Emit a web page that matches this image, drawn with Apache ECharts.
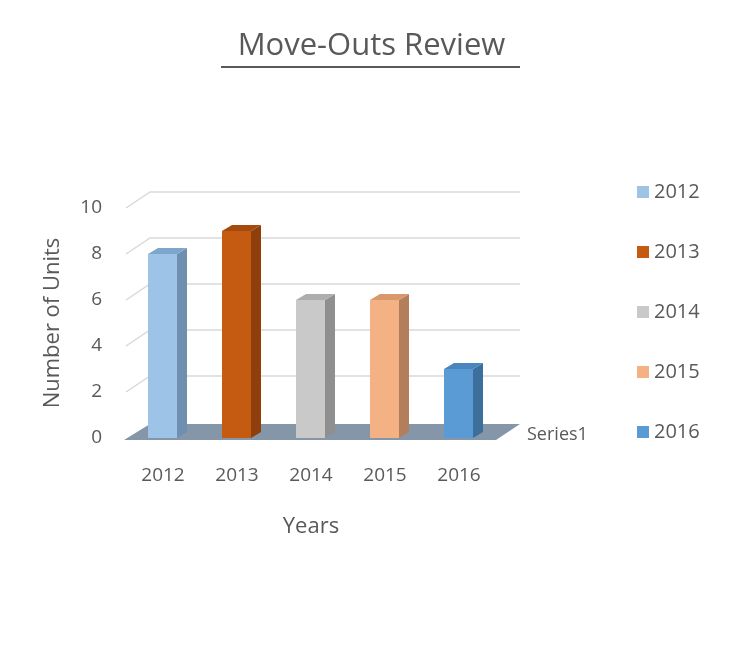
<!DOCTYPE html>
<html><head><meta charset="utf-8">
<script src="https://cdn.jsdelivr.net/npm/echarts@6/dist/echarts.min.js"></script>
<style>html,body{margin:0;padding:0;background:#fff}#c{width:743px;height:652px}</style>
</head><body><div id="c"></div>
<script>
const categories = ['2012','2013','2014','2015','2016'];
const values = [8, 9, 6, 6, 3];
const yTicks = [0, 2, 4, 6, 8, 10];
const frontColors = ['#9dc3e6','#c55a11','#c9c9c9','#f4b183','#5b9bd5'];
const sideColors = ['#6f8fb0','#8e3f0b','#8f8f8f','#b27e5c','#3d6f9c'];
const topColors = ['#7ea6cc','#a54a0d','#adadad','#d9986c','#4a86bd'];
const DX = 24, DY = -16;

const chart = echarts.init(document.getElementById('c'));
const font = '"Open Sans", Calibri, Carlito, sans-serif';
const legendSeries = categories.map((c, i) => ({
  name: c, type: 'bar', data: [], itemStyle: {color: frontColors[i]}
}));

chart.setOption({
  animation: false,
  title: {text: 'Move-Outs Review', left: 'center', top: 26,
    textStyle: {fontFamily: font, fontSize: 31, fontWeight: 'normal', color: '#595959'}},
  legend: {orient: 'vertical', left: 632, top: 177, itemWidth: 12, itemHeight: 12, itemGap: 40,
    icon: 'rect', data: categories,
    textStyle: {fontFamily: font, fontSize: 20, color: '#595959'}},
  grid: {left: 126, width: 370, top: 208, height: 230},
  xAxis: {type: 'category', data: categories, name: 'Years', nameLocation: 'middle', nameGap: 78,
    nameTextStyle: {fontFamily: font, fontSize: 22, color: '#595959'},
    axisLine: {show: false}, axisTick: {show: false},
    axisLabel: {margin: 28, fontFamily: font, fontSize: 19, color: '#595959'}},
  yAxis: {type: 'value', min: 0, max: 10, interval: 2, name: 'Number of Units',
    nameLocation: 'middle', nameGap: 62,
    nameTextStyle: {fontFamily: font, fontSize: 22, color: '#595959'},
    splitLine: {show: false}, axisLine: {show: false}, axisTick: {show: false},
    axisLabel: {margin: 24, fontFamily: font, fontSize: 19, color: '#595959'}},
  series: [
    {type: 'custom', silent: true, data: yTicks.map(v => [0, v]), z: 1,
      renderItem: (params, api) => {
        const v = api.value(1);
        const p = api.coord([0, v]);
        const x0 = 126, x1 = 496 + DX;
        if (v === 0) {
          return {type: 'polygon', shape: {points: [[x0 - 2, p[1] + 2], [496, p[1] + 2], [x1, p[1] + DY + 2], [x0 + DX, p[1] + DY + 2]]},
            style: {fill: '#8496a7'}};
        }
        return {type: 'polyline', shape: {points: [[x0, p[1]], [x0 + DX, p[1] + DY], [x1, p[1] + DY]]},
          style: {stroke: '#d9d9d9', lineWidth: 1.5, fill: null}};
      }},
    {type: 'custom', data: values.map((v, i) => [i, v]), z: 3,
      renderItem: (params, api) => {
        const i = api.value(0), v = api.value(1);
        const top = api.coord([i, v]), base = api.coord([i, 0]);
        const w = 29, d = 10, dy = -6;
        const l = top[0] - 15, r = l + w, t = top[1], b = base[1];
        return {type: 'group', children: [
          {type: 'polygon', shape: {points: [[r, t], [r + d, t + dy], [r + d, b + dy], [r, b]]}, style: {fill: sideColors[i]}},
          {type: 'polygon', shape: {points: [[l, t], [l + d, t + dy], [r + d, t + dy], [r, t]]}, style: {fill: topColors[i]}},
          {type: 'rect', shape: {x: l, y: t, width: w, height: b - t}, style: {fill: frontColors[i]}}
        ]};
      }},
    ...legendSeries
  ],
  graphic: [
    {type: 'rect', shape: {x: 221, y: 66, width: 299, height: 2}, style: {fill: '#595959'}},
    {type: 'text', left: 527, top: 426, style: {text: 'Series1', font: '18px ' + font, fill: '#595959'}}
  ]
});
</script></body></html>
